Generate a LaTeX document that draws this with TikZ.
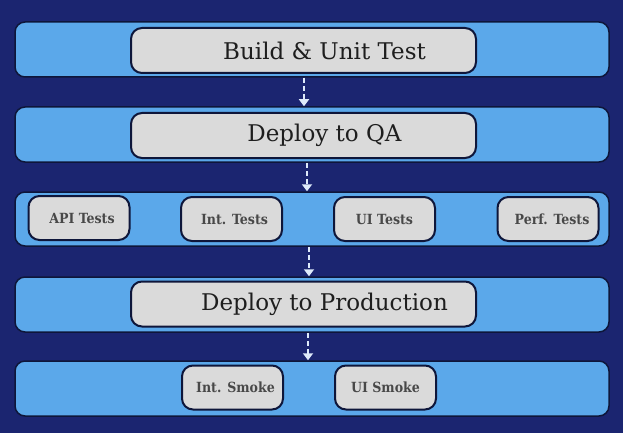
\documentclass[tikz,border=0pt]{standalone}
\usepackage{fontspec}
\setmainfont{DejaVu Serif}
\newfontfamily\testfont{DejaVu Serif Condensed}
\usetikzlibrary{arrows.meta}
\definecolor{backdrop}{RGB}{27,37,112}
\definecolor{lanefill}{RGB}{91,168,234}
\definecolor{boxfill}{RGB}{218,218,218}
\definecolor{edgeline}{RGB}{14,22,58}
\definecolor{flowline}{RGB}{222,234,250}
\definecolor{stagetext}{RGB}{30,30,30}
\definecolor{testtext}{RGB}{72,72,72}
\tikzset{lane/.style={draw=edgeline,line width=1.5pt,fill=lanefill,rounded corners=10pt,
  minimum width=594pt,minimum height=55pt,inner sep=0pt},
 stage/.style={draw=edgeline,line width=2pt,fill=boxfill,rounded corners=11pt,
  minimum width=345pt,minimum height=45pt,inner sep=0pt,text=stagetext,
  font=\fontsize{23}{27}\selectfont,execute at begin node={\hspace*{42pt}}},
 test/.style={draw=edgeline,line width=2pt,fill=boxfill,rounded corners=11pt,
  minimum width=101pt,minimum height=44pt,inner sep=0pt,text=testtext,
  font=\testfont\bfseries\fontsize{14}{16}\selectfont},
 flow/.style={flowline,line width=1.8pt,dash pattern=on 5pt off 3pt,
  -{Triangle[width=10pt,length=7pt]}}}

\begin{document}
\begin{tikzpicture}[x=1pt,y=-1pt]
\fill[backdrop] (0,0) rectangle (623,433);
\useasboundingbox (0,0) rectangle (623,433);
% lanes
\node[lane] (row1) at (312,49.5) {};
\node[lane] (row2) at (312,134.5) {};
\node[lane,minimum height=54pt] (row3) at (312,219) {};
\node[lane] (row4) at (312,304.5) {};
\node[lane] (row5) at (312,388.5) {};
% stages
\node[stage] (build) at (303.5,50.5) {Build \& Unit Test};
\node[stage] (qa) at (303.5,135.5) {Deploy to QA};
\node[stage] (prod) at (303.5,304) {Deploy to Production};
% tests
\node[test] (api) at (79,218) {\hspace*{6pt}API Tests};
\node[test] (inttest) at (231.5,219) {\hspace*{6pt}Int. Tests};
\node[test] (uitest) at (384.5,219) {UI Tests};
\node[test] (perf) at (548,219) {\hspace*{8pt}Perf. Tests};
\node[test] (intsmoke) at (232.5,387.5) {\hspace*{6pt}Int. Smoke};
\node[test] (uismoke) at (385.5,387.5) {UI Smoke};
% flow
\draw[flow] ([xshift=-8pt]row1.south) -- ([xshift=-8pt]row2.north);
\draw[flow] ([xshift=-5pt]row2.south) -- ([xshift=-5pt]row3.north);
\draw[flow] ([xshift=-3pt]row3.south) -- ([xshift=-3pt]row4.north);
\draw[flow] ([xshift=-4pt]row4.south) -- ([xshift=-4pt]row5.north);
\end{tikzpicture}
\end{document}
